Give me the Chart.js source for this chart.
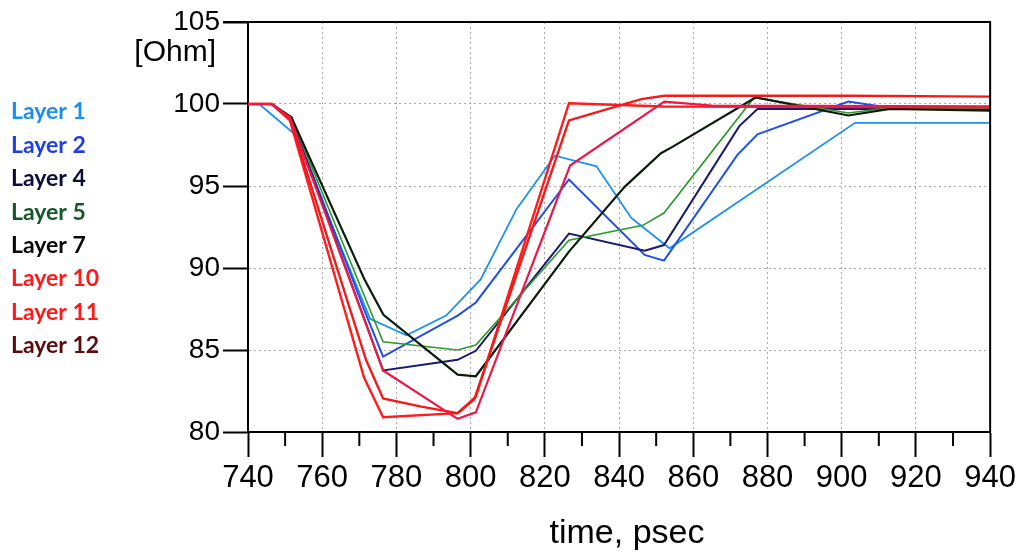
<!DOCTYPE html>
<html>
<head>
<meta charset="utf-8">
<script src="https://cdn.jsdelivr.net/npm/chart.js@4.4.1/dist/chart.umd.min.js"></script>
<style>
  html, body { margin: 0; padding: 0; background: #fff; }
  #wrap { position: relative; width: 1019px; height: 554px; }
</style>
</head>
<body>
<div id="wrap"><canvas id="impChart"></canvas></div>
<script>
// series names and colours
const layerNames = ['Layer 1', 'Layer 2', 'Layer 4', 'Layer 5', 'Layer 7', 'Layer 10', 'Layer 11', 'Layer 12'];
const lineColors = ['#1e90f0', '#2050e8', '#1a1a6e', '#2a9a2a', '#0c1c0c', '#ff1c1c', '#f51a1a', '#ec1848'];
const legendColors = ['#1a8ff0', '#1f3fe6', '#0c0c38', '#12592a', '#0a0a0a', '#ff1a1a', '#ff1a1a', '#5a0c0c'];

// [time psec, impedance Ohm]
const layer1 = [[740,100],[743,100],[752.6,98.15],[772.9,86.9],[782.7,85.9],[793.4,87.1],[802.7,89.3],[812.4,93.6],[822.7,96.85],[833.9,96.2],[843.3,93.05],[853.6,91.2],[903.6,98.85],[940,98.85]];
const layer2 = [[740,100],[746.4,100],[751.7,99.1],[771.4,87.4],[776.4,84.6],[796.5,87.1],[801.4,87.9],[826.5,95.4],[846.9,90.8],[852.1,90.45],[871.9,96.9],[877.3,98.15],[901.8,100.15],[912,99.8],[940,99.75]];
const layer4 = [[740,100],[746.4,100],[751.7,99.1],[776.4,83.75],[796.5,84.4],[801.4,84.95],[826.5,92.1],[846.9,91.05],[852.1,91.4],[872.4,98.65],[877.3,99.7],[940,99.7]];
const layer5 = [[740,100],[746.4,100],[751.7,99.2],[776.4,85.5],[796.5,85.0],[801.4,85.3],[826.5,91.7],[846.4,92.6],[852.1,93.35],[876.4,100.4],[901.8,99.45],[912,99.75],[940,99.75]];
const layer7 = [[740,100],[746.4,100],[751.7,99.2],[771.4,89.3],[776.5,87.15],[796.5,83.5],[801.4,83.4],[826.5,91.0],[841.5,94.95],[851.3,97.0],[854.5,97.4],[876.8,100.4],[901.8,99.3],[913,99.7],[940,99.6]];
const layer10 = [[740,100],[746.4,100],[751.3,99.0],[771.3,83.3],[776.4,80.9],[796.5,81.15],[801.4,82.15],[826.5,100.05],[852,99.85],[940,99.8]];
const layer11 = [[740,100],[746.4,100],[751.3,99.1],[771.8,84.4],[776.4,82.05],[786.7,81.55],[796.5,81.15],[801,82.0],[826.5,99.0],[846,100.3],[852.2,100.5],[901.8,100.5],[940,100.45]];
const layer12 = [[740,100],[746.4,100],[751.3,99.2],[776.4,83.75],[796.5,80.8],[801.4,81.2],[826.8,96.25],[852.2,100.15],[865,99.9],[940,99.85]];
const allLayers = [layer1, layer2, layer4, layer5, layer7, layer10, layer11, layer12];
const lineWidths = [1.8, 2, 2, 1.6, 2.2, 2.4, 2.4, 2.2];

const xTitle = 'time, psec';
const yUnit = '[Ohm]';

const datasets = allLayers.map((pts, i) => ({
    label: layerNames[i],
    data: pts.map(p => ({ x: p[0], y: p[1] })),
    borderColor: lineColors[i],
    borderWidth: lineWidths[i],
    pointRadius: 0,
    tension: 0,
    fill: false,
    order: 10 - i
}));

// extra drawing: frame, minor ticks, unit, x title and the coloured legend
const decorations = {
    id: 'decorations',
    afterDraw(chart) {
        const ctx = chart.ctx;
        const area = chart.chartArea;
        const xs = chart.scales.x;
        const ys = chart.scales.y;
        ctx.save();
        ctx.strokeStyle = '#000';
        ctx.lineWidth = 2;
        ctx.beginPath();
        ctx.moveTo(area.left - 25, area.top);
        ctx.lineTo(area.right, area.top);
        ctx.lineTo(area.right, area.bottom);
        ctx.stroke();
        // minor ticks every 10 psec
        for (let t = 750; t < 940; t += 20) {
            const px = xs.getPixelForValue(t);
            ctx.beginPath();
            ctx.moveTo(px, area.bottom);
            ctx.lineTo(px, area.bottom + 14);
            ctx.stroke();
        }
        ctx.fillStyle = '#000';
        ctx.font = '30px "Liberation Sans", Arial, sans-serif';
        ctx.textAlign = 'right';
        ctx.textBaseline = 'middle';
        ctx.fillText(yUnit, area.left - 32, ys.getPixelForValue(105) + 31);
        ctx.textAlign = 'center';
        ctx.font = '34px "Liberation Sans", Arial, sans-serif';
        ctx.fillText(xTitle, 627, 534);
        ctx.textAlign = 'left';
        ctx.font = 'bold 23px Lato, "Open Sans", sans-serif';
        layerNames.forEach((name, i) => {
            ctx.fillStyle = legendColors[i];
            ctx.fillText(name, 11, 112 + i * 33.4);
        });
        ctx.restore();
    }
};

const gridStyle = {
    color: '#a8a8a8',
    lineWidth: 1,
    tickColor: '#000',
    tickWidth: 2,
    tickLength: 25,
    tickBorderDash: []
};

new Chart(document.getElementById('impChart'), {
    type: 'line',
    data: { datasets: datasets },
    options: {
        responsive: true,
        maintainAspectRatio: false,
        animation: false,
        layout: { padding: { top: 22, right: 25, left: 0, bottom: 0 } },
        plugins: {
            legend: { display: false },
            tooltip: { enabled: false }
        },
        scales: {
            x: {
                type: 'linear',
                min: 740,
                max: 940,
                afterFit: s => { s.height = 122; },
                ticks: {
                    stepSize: 20,
                    color: '#000',
                    padding: 3,
                    maxRotation: 0,
                    font: { family: '"Liberation Sans Narrow", "Liberation Sans", Arial', size: 31 }
                },
                grid: gridStyle,
                border: { display: true, color: '#000', width: 2, dash: [2, 3] }
            },
            y: {
                min: 80,
                max: 105,
                afterFit: s => { s.width = 248; },
                ticks: {
                    stepSize: 5,
                    color: '#000',
                    padding: 3,
                    font: { family: '"Liberation Sans", Arial', size: 28 }
                },
                grid: gridStyle,
                border: { display: true, color: '#000', width: 2, dash: [2, 3] }
            }
        }
    },
    plugins: [decorations]
});
</script>
</body>
</html>
